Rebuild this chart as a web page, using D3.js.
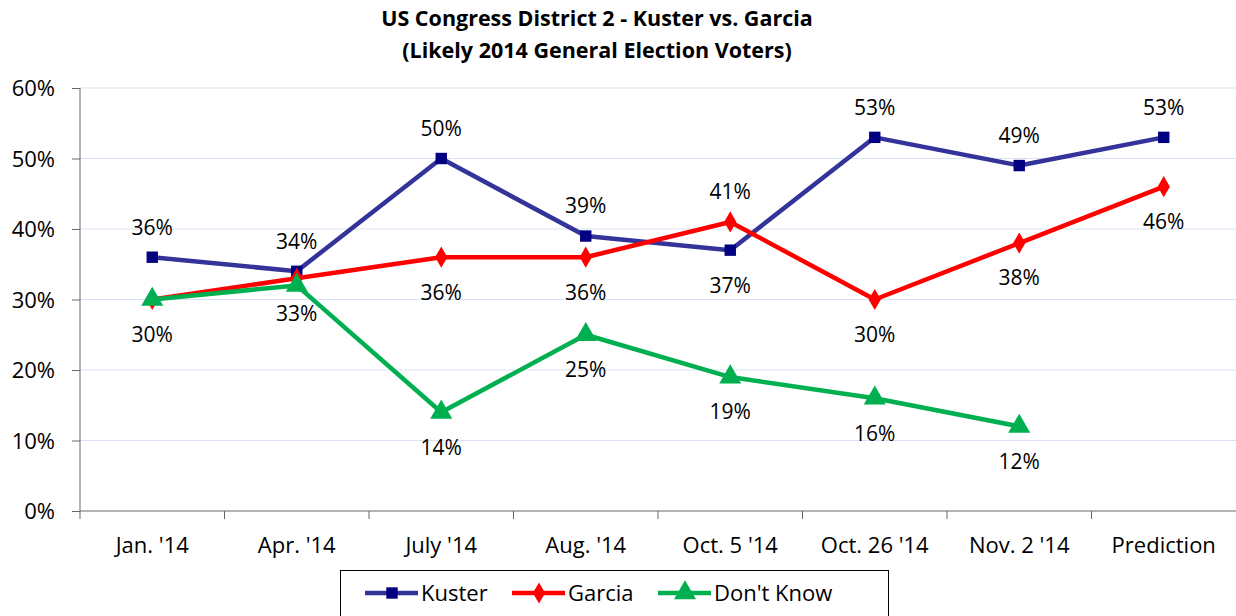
<!DOCTYPE html>
<html>
<head>
<meta charset="utf-8">
<script src="https://cdn.jsdelivr.net/npm/d3@7"></script>
<style>
  body { margin: 0; background: #fff; }
  text { font-family: "Open Sans", sans-serif; fill: #000; }
</style>
</head>
<body>
<div id="chart"></div>
<script>
const width = 1236;
const height = 616;

// données
const categories = ["Jan. '14", "Apr. '14", "July '14", "Aug. '14", "Oct. 5 '14", "Oct. 26 '14", "Nov. 2 '14", "Prediction"];
const kuster = [36, 34, 50, 39, 37, 53, 49, 53];
const garcia = [30, 33, 36, 36, 41, 30, 38, 46];
const dontKnow = [30, 32, 14, 25, 19, 16, 12, null];
const yTicks = [0, 10, 20, 30, 40, 50, 60];

// position des étiquettes : "a" dessus, "b" dessous, null = pas d'étiquette
const kusterLabels = ["a", "a", "a", "a", "b", "a", "a", "a"];
const garciaLabels = ["b", "b", "b", "b", "a", "b", "b", "b"];
const dontKnowLabels = [null, null, "b", "b", "b", "b", "b", null];

const margin = {top: 88, right: 0, bottom: 105, left: 80};

const svg = d3.select("#chart").append("svg")
  .attr("width", width)
  .attr("height", height);

const x = d3.scaleBand()
  .domain(categories)
  .range([margin.left, width]);

const y = d3.scaleLinear()
  .domain([0, 60])
  .range([height - margin.bottom, margin.top]);

// titre
const title = svg.append("text")
  .attr("text-anchor", "middle")
  .style("font-weight", "bold")
  .style("font-size", "21.5px");
title.append("tspan").attr("x", 597).attr("y", 26).text("US Congress District 2 - Kuster vs. Garcia");
title.append("tspan").attr("x", 597).attr("y", 58).text("(Likely 2014 General Election Voters)");

// grille
svg.append("g")
  .selectAll("line")
  .data(yTicks.filter(d => d > 0))
  .join("line")
  .attr("x1", margin.left)
  .attr("x2", width)
  .attr("y1", d => y(d))
  .attr("y2", d => y(d))
  .attr("stroke", "#d9e1f2")
  .attr("stroke-width", 1);

// axe Y
const yAxis = svg.append("g")
  .attr("transform", `translate(${margin.left},0)`)
  .call(d3.axisLeft(y).tickValues(yTicks).tickFormat(d => d + "%").tickSize(8).tickPadding(17));
yAxis.select(".domain").attr("stroke", "#666").attr("d", `M0,${y(0)}V${y(60)}`);
yAxis.selectAll(".tick line").attr("stroke", "#666");
yAxis.selectAll(".tick text").style("font-size", "22px").attr("dy", "0.35em");

// axe X
const xAxis = svg.append("g")
  .attr("transform", `translate(0,${y(0)})`);
xAxis.append("line")
  .attr("x1", margin.left).attr("x2", width)
  .attr("stroke", "#666");
xAxis.selectAll(".xtick")
  .data(categories)
  .join("line")
  .attr("class", "xtick")
  .attr("x1", d => x(d)).attr("x2", d => x(d))
  .attr("y1", 0).attr("y2", 8)
  .attr("stroke", "#666");
xAxis.selectAll(".xlabel")
  .data(categories)
  .join("text")
  .attr("class", "xlabel")
  .attr("x", d => x(d) + x.bandwidth() / 2)
  .attr("y", 42)
  .attr("text-anchor", "middle")
  .style("font-size", "22px")
  .text(d => d);

const series = [
  {name: "Kuster", values: kuster, labels: kusterLabels, line: "#333399", marker: "#000080", symbol: d3.symbolSquare, size: 130},
  {name: "Garcia", values: garcia, labels: garciaLabels, line: "#ff0000", marker: "#ff0000", symbol: d3.symbolDiamond, size: 130},
  {name: "Don't Know", values: dontKnow, labels: dontKnowLabels, line: "#00b050", marker: "#00b050", symbol: d3.symbolTriangle, size: 210}
];

const line = d3.line()
  .defined(d => d.v != null)
  .x(d => x(d.c) + x.bandwidth() / 2)
  .y(d => y(d.v));

series.forEach(s => {
  const pts = categories.map((c, i) => ({c: c, v: s.values[i], pos: s.labels[i]}));
  const g = svg.append("g");
  g.append("path")
    .datum(pts)
    .attr("d", line)
    .attr("fill", "none")
    .attr("stroke", s.line)
    .attr("stroke-width", 4.5)
    .attr("stroke-linejoin", "round");
  g.selectAll("path.marker")
    .data(pts.filter(d => d.v != null))
    .join("path")
    .attr("class", "marker")
    .attr("transform", d => `translate(${x(d.c) + x.bandwidth() / 2},${y(d.v)})`)
    .attr("d", d3.symbol().type(s.symbol).size(s.size))
    .attr("fill", s.marker);
});

// étiquettes
series.forEach(s => {
  const pts = categories.map((c, i) => ({c: c, v: s.values[i], pos: s.labels[i]}));
  svg.append("g").selectAll("text")
    .data(pts.filter(d => d.v != null && d.pos))
    .join("text")
    .attr("x", d => x(d.c) + x.bandwidth() / 2)
    .attr("y", d => y(d.v) + (d.pos === "a" ? -30 : 35))
    .attr("dy", "0.35em")
    .attr("text-anchor", "middle")
    .style("font-size", "21px")
    .text(d => d.v + "%");
});

// légende
const legend = svg.append("g");
legend.append("rect")
  .attr("x", 340.5).attr("y", 570.5)
  .attr("width", 548).attr("height", 60)
  .attr("fill", "#fff").attr("stroke", "#000");
const legX = [365, 512, 658];
series.forEach((s, i) => {
  const lg = legend.append("g").attr("transform", `translate(${legX[i]},593)`);
  lg.append("line").attr("x1", 0).attr("x2", 53)
    .attr("stroke", s.line).attr("stroke-width", 4.5);
  lg.append("path")
    .attr("transform", "translate(27,0)")
    .attr("d", d3.symbol().type(s.symbol).size(s.size))
    .attr("fill", s.marker);
  lg.append("text").attr("x", 56).attr("dy", "0.35em")
    .style("font-size", "22px")
    .text(s.name);
});
</script>
</body>
</html>
